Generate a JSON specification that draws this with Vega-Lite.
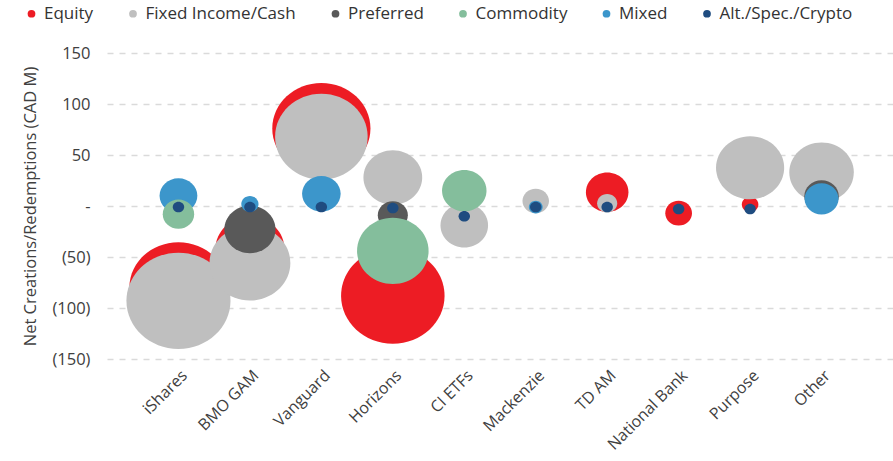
{
  "$schema": "https://vega.github.io/schema/vega-lite/v6.json",
  "width": 786,
  "height": 306,
  "autosize": "none",
  "padding": {"left": 107, "top": 53, "right": 0, "bottom": 102},
  "background": "white",
  "config": {
    "view": {"stroke": null},
    "font": "Open Sans",
    "axis": {"labelColor": "#404040", "titleColor": "#404040", "labelFont": "Open Sans", "titleFont": "Open Sans"},
    "legend": {"labelFont": "Open Sans", "labelColor": "#333333"}
  },
  "data": {
    "values": [
      {"manager": "iShares", "asset": "Equity", "flow": -80, "bubble": 81},
      {"manager": "BMO GAM", "asset": "Equity", "flow": -42, "bubble": 40},
      {"manager": "Vanguard", "asset": "Equity", "flow": 76, "bubble": 81},
      {"manager": "Horizons", "asset": "Equity", "flow": -88, "bubble": 90},
      {"manager": "TD AM", "asset": "Equity", "flow": 13.5, "bubble": 15.2},
      {"manager": "National Bank", "asset": "Equity", "flow": -7, "bubble": 6},
      {"manager": "Purpose", "asset": "Equity", "flow": 1.5, "bubble": 2.3},
      {"manager": "iShares", "asset": "Fixed Income/Cash", "flow": -93, "bubble": 91},
      {"manager": "BMO GAM", "asset": "Fixed Income/Cash", "flow": -56, "bubble": 55},
      {"manager": "Vanguard", "asset": "Fixed Income/Cash", "flow": 68, "bubble": 72},
      {"manager": "Horizons", "asset": "Fixed Income/Cash", "flow": 28, "bubble": 29},
      {"manager": "CI ETFs", "asset": "Fixed Income/Cash", "flow": -19, "bubble": 19},
      {"manager": "Mackenzie", "asset": "Fixed Income/Cash", "flow": 5, "bubble": 5.9},
      {"manager": "TD AM", "asset": "Fixed Income/Cash", "flow": 2.7, "bubble": 3.4},
      {"manager": "Purpose", "asset": "Fixed Income/Cash", "flow": 37.5, "bubble": 39},
      {"manager": "Other", "asset": "Fixed Income/Cash", "flow": 33, "bubble": 35},
      {"manager": "BMO GAM", "asset": "Preferred", "flow": -23, "bubble": 22},
      {"manager": "Horizons", "asset": "Preferred", "flow": -9, "bubble": 7.6},
      {"manager": "Other", "asset": "Preferred", "flow": 9.5, "bubble": 10},
      {"manager": "iShares", "asset": "Mixed", "flow": 10, "bubble": 12},
      {"manager": "BMO GAM", "asset": "Mixed", "flow": 2, "bubble": 2.5},
      {"manager": "Vanguard", "asset": "Mixed", "flow": 12, "bubble": 12.5},
      {"manager": "Mackenzie", "asset": "Mixed", "flow": -1, "bubble": 1.6},
      {"manager": "Other", "asset": "Mixed", "flow": 7, "bubble": 9.7},
      {"manager": "iShares", "asset": "Commodity", "flow": -8, "bubble": 8.3},
      {"manager": "Horizons", "asset": "Commodity", "flow": -44, "bubble": 43},
      {"manager": "CI ETFs", "asset": "Commodity", "flow": 15, "bubble": 16.6},
      {"manager": "iShares", "asset": "Alt./Spec./Crypto", "flow": -1, "bubble": 1.1},
      {"manager": "BMO GAM", "asset": "Alt./Spec./Crypto", "flow": -1, "bubble": 1.1},
      {"manager": "Vanguard", "asset": "Alt./Spec./Crypto", "flow": -1, "bubble": 1.1},
      {"manager": "Horizons", "asset": "Alt./Spec./Crypto", "flow": -2, "bubble": 1.1},
      {"manager": "CI ETFs", "asset": "Alt./Spec./Crypto", "flow": -10, "bubble": 1.1},
      {"manager": "Mackenzie", "asset": "Alt./Spec./Crypto", "flow": -1, "bubble": 1.1},
      {"manager": "TD AM", "asset": "Alt./Spec./Crypto", "flow": -1, "bubble": 1.1},
      {"manager": "National Bank", "asset": "Alt./Spec./Crypto", "flow": -3, "bubble": 1.1},
      {"manager": "Purpose", "asset": "Alt./Spec./Crypto", "flow": -3, "bubble": 1.1}
    ]
  },
  "mark": {
    "type": "point",
    "filled": true,
    "opacity": 1,
    "strokeWidth": 0,
    "shape": "M-1,0A1,0.926,0,1,1,1,0A1,0.926,0,1,1,-1,0Z"
  },
  "encoding": {
    "x": {
      "field": "manager",
      "type": "nominal",
      "sort": ["iShares", "BMO GAM", "Vanguard", "Horizons", "CI ETFs", "Mackenzie", "TD AM", "National Bank", "Purpose", "Other"],
      "scale": {"type": "point", "padding": 1},
      "axis": {
        "title": null,
        "labelAngle": -45,
        "labelAlign": "right",
        "labelBaseline": "top",
        "labelFontSize": 16,
        "labelPadding": 8,
        "ticks": false,
        "domain": false,
        "grid": false
      }
    },
    "y": {
      "field": "flow",
      "type": "quantitative",
      "scale": {"domain": [-150, 150], "nice": false},
      "axis": {
        "title": "Net Creations/Redemptions (CAD M)",
        "titleFontSize": 16.5,
        "titleFontWeight": "normal",
        "titlePadding": 13,
        "values": [-150, -100, -50, 0, 50, 100, 150],
        "labelExpr": "datum.value == 0 ? '-\u00a0\u00a0' : (datum.value < 0 ? '(' + format(-datum.value, 'd') + ')' : format(datum.value, 'd') + '\u00a0')",
        "labelFontSize": 16.5,
        "labelPadding": 17,
        "ticks": false,
        "domain": false,
        "grid": true,
        "gridColor": "#dadada",
        "gridDash": [6, 6],
        "gridWidth": 1.5
      }
    },
    "color": {
      "field": "asset",
      "type": "nominal",
      "scale": {
        "domain": ["Equity", "Fixed Income/Cash", "Preferred", "Commodity", "Mixed", "Alt./Spec./Crypto"],
        "range": ["#ED1C24", "#BFBFBF", "#595959", "#84BE9C", "#3C96CB", "#1F4C80"]
      },
      "legend": {
        "title": null,
        "orient": "none",
        "legendX": -84,
        "legendY": -48,
        "direction": "horizontal",
        "symbolType": "circle",
        "symbolSize": 60,
        "symbolStrokeWidth": 0,
        "labelFontSize": 17,
        "labelOffset": 4,
        "columnPadding": 30.5
      }
    },
    "size": {
      "field": "bubble",
      "type": "quantitative",
      "scale": {"type": "linear", "zero": true, "domain": [0, 100], "range": [0, 11900]},
      "legend": null
    }
  }
}
